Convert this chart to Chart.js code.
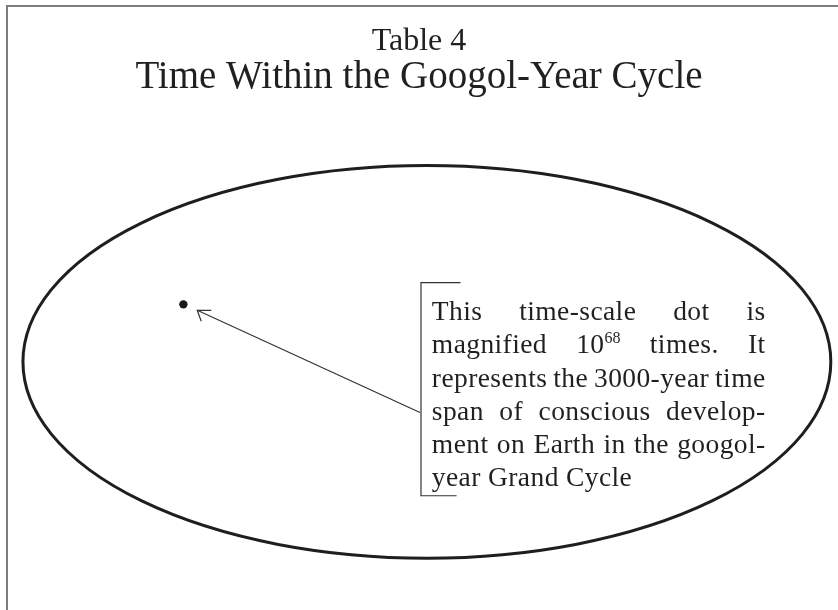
<!DOCTYPE html>
<html><head><meta charset="utf-8">
<script src="https://cdn.jsdelivr.net/npm/chart.js@4.4.0/dist/chart.umd.min.js"></script>
<style>html,body{margin:0;padding:0;background:#fff}canvas{display:block}</style>
</head><body>
<canvas id="c" width="838" height="610"></canvas>
<script>
// ---- data (diagram units: x 0..100, y 0..100) ----
const titleLines = ["Table 4", "Time Within the Googol-Year Cycle"];
const cycleCenter = [50.95, 49.2];      // the googol-year cycle (ellipse)
const cycleRadii = [48.69, 39.6];
const dotPoint = [21.6, 60.8];          // the 3000-year dot
const arrowFrom = [50.12, 39.0];
const arrowTo = [23.27, 59.6];
const bracketX = [50.24, 55.0, 54.53];  // spine, top arm end, bottom arm end
const bracketY = [65.2, 22.2];          // top, bottom
const noteSpan = [51.55, 91.77];        // left / right edge of the note text
const noteTop = [57.6];                 // first baseline
const noteLines = [
  "This time-scale dot is",
  "magnified 10^68 times. It",
  "represents the 3000-year time",
  "span of conscious develop-",
  "ment on Earth in the googol-",
  "year Grand Cycle"
];

const FONT = "'Liberation Serif','Times New Roman',serif";
const INK = '#231f20';
const NOTE_SIZE = 27.5, SUP_SIZE = 16;

function tokenize(word){
  const i = word.indexOf('^');
  if (i < 0) return [{t: word, sup: false}];
  return [{t: word.slice(0, i), sup: false}, {t: word.slice(i + 1), sup: true}];
}
function setFont(ctx, sup){
  ctx.font = (sup ? SUP_SIZE : NOTE_SIZE) + 'px ' + FONT;
  ctx.letterSpacing = sup ? '0px' : '0.4px';
}
function segWidth(ctx, segs){
  let w = 0;
  for (const s of segs){ setFont(ctx, s.sup); w += ctx.measureText(s.t).width; }
  return w;
}

const diagram = {
  id: 'diagram',
  beforeDraw(chart){
    const ctx = chart.ctx;
    ctx.save();
    ctx.fillStyle = '#fff';
    ctx.fillRect(0, 0, chart.width, chart.height);
    ctx.strokeStyle = '#7d7d7d';
    ctx.lineWidth = 2;
    ctx.beginPath();
    ctx.moveTo(7, chart.height);
    ctx.lineTo(7, 6);
    ctx.lineTo(chart.width, 6);
    ctx.stroke();
    ctx.restore();
  },
  beforeDatasetsDraw(chart){
    const ctx = chart.ctx, xs = chart.scales.x, ys = chart.scales.y;
    ctx.save();
    // ellipse
    const cx = xs.getPixelForValue(cycleCenter[0]);
    const cy = ys.getPixelForValue(cycleCenter[1]);
    const rx = Math.abs(xs.getPixelForValue(cycleCenter[0] + cycleRadii[0]) - cx);
    const ry = Math.abs(ys.getPixelForValue(cycleCenter[1] + cycleRadii[1]) - cy);
    ctx.strokeStyle = '#1e1e1e';
    ctx.lineWidth = 3;
    ctx.beginPath();
    ctx.ellipse(cx, cy, rx, ry, 0, 0, Math.PI * 2);
    ctx.stroke();
    // bracket
    const bx = xs.getPixelForValue(bracketX[0]);
    const bt = ys.getPixelForValue(bracketY[0]);
    const bb = ys.getPixelForValue(bracketY[1]);
    ctx.strokeStyle = '#333';
    ctx.lineWidth = 1.2;
    ctx.beginPath();
    ctx.moveTo(xs.getPixelForValue(bracketX[1]), bt);
    ctx.lineTo(bx, bt);
    ctx.lineTo(bx, bb);
    ctx.lineTo(xs.getPixelForValue(bracketX[2]), bb);
    ctx.stroke();
    // note text, justified
    const left = xs.getPixelForValue(noteSpan[0]);
    const right = xs.getPixelForValue(noteSpan[1]);
    let base = ys.getPixelForValue(noteTop[0]);
    ctx.fillStyle = INK;
    ctx.textBaseline = 'alphabetic';
    ctx.textAlign = 'left';
    noteLines.forEach((line, li) => {
      const words = line.split(' ').map(tokenize);
      const widths = words.map(w => segWidth(ctx, w));
      const total = widths.reduce((a, b) => a + b, 0);
      const last = li === noteLines.length - 1;
      setFont(ctx, false);
      const gap = last ? ctx.measureText(' ').width : (right - left - total) / (words.length - 1);
      let x = left;
      words.forEach(segs => {
        for (const s of segs){
          setFont(ctx, s.sup);
          ctx.fillText(s.t, x, s.sup ? base - 10 : base);
          x += ctx.measureText(s.t).width;
        }
        x += gap;
      });
      base += 33.2;
    });
    ctx.restore();
  },
  afterDatasetsDraw(chart){
    const ctx = chart.ctx, xs = chart.scales.x, ys = chart.scales.y;
    const tx = xs.getPixelForValue(arrowTo[0]);
    const ty = ys.getPixelForValue(arrowTo[1]);
    ctx.save();
    ctx.strokeStyle = '#333';
    ctx.lineWidth = 1.2;
    ctx.beginPath();
    ctx.moveTo(tx + 14, ty);
    ctx.lineTo(tx, ty);
    ctx.lineTo(tx + 4, ty + 11);
    ctx.stroke();
    ctx.restore();
  }
};

new Chart(document.getElementById('c'), {
  type: 'scatter',
  data: {
    datasets: [
      {
        label: 'dot',
        data: [{x: dotPoint[0], y: dotPoint[1]}],
        pointRadius: 4.2,
        backgroundColor: '#1a1a1a',
        borderWidth: 0
      },
      {
        label: 'arrow',
        type: 'line',
        data: [{x: arrowFrom[0], y: arrowFrom[1]}, {x: arrowTo[0], y: arrowTo[1]}],
        borderColor: '#333',
        borderWidth: 1.2,
        pointRadius: 0,
        fill: false,
        showLine: true
      }
    ]
  },
  options: {
    responsive: false,
    animation: false,
    layout: {padding: 0},
    events: [],
    plugins: {
      legend: {display: false},
      tooltip: {enabled: false},
      title: {
        display: true,
        text: titleLines[0],
        color: INK,
        font: {family: FONT, size: 32, weight: 'normal', lineHeight: 1},
        padding: {top: 26, bottom: 0}
      },
      subtitle: {
        display: true,
        text: titleLines[1],
        color: INK,
        font: {family: FONT, size: 39, weight: 'normal', lineHeight: 1},
        padding: {top: 0, bottom: 13}
      }
    },
    scales: {
      x: {type: 'linear', min: 0, max: 100, display: false},
      y: {type: 'linear', min: 0, max: 100, display: false}
    }
  },
  plugins: [diagram]
});
</script>
</body></html>
